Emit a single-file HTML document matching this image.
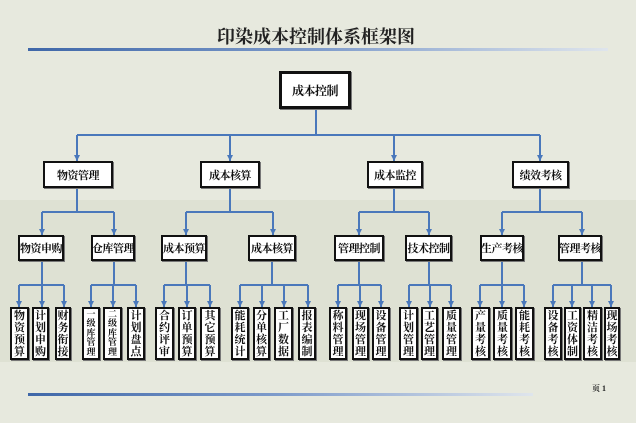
<!DOCTYPE html>
<html><head><meta charset="utf-8"><style>
body{margin:0}
#p{position:relative;width:636px;height:423px;overflow:hidden;background:#e7e9de;font-family:"Liberation Serif","Noto Serif CJK SC",serif;}
.band{position:absolute;left:0;top:200px;width:636px;height:162px;background:#dee1d3}
.b{position:absolute;box-sizing:border-box;border:2px solid #111;background:#fff;display:flex;align-items:center;justify-content:center;font-weight:bold;font-size:11px;color:#111;box-shadow:1px 1px 0 #777;white-space:nowrap;letter-spacing:-0.5px}
.l{white-space:normal;letter-spacing:0;text-align:center;padding:0}
.l span{display:block;width:11px;font-size:11px;line-height:12px;word-break:break-all;}
.s span{font-size:9px;line-height:9.5px;width:9px}
svg{position:absolute;left:0;top:0}
</style></head><body><div id="p">
<div class="band"></div>
<div style="position:absolute;left:0;width:632px;top:23px;text-align:center;font-size:18px;font-weight:bold;color:#222;">印染成本控制体系框架图</div>
<svg width="636" height="423">
<defs>
<linearGradient id="g" x1="0" x2="1"><stop offset="0" stop-color="#3f67a8"/><stop offset="0.5" stop-color="#7f9ccb"/><stop offset="1" stop-color="#dfe5ec"/></linearGradient>
<marker id="a" markerWidth="6" markerHeight="6" refX="3" refY="6" markerUnits="userSpaceOnUse"><path d="M0,0 L6,0 L3,6z" fill="#4a78bb"/></marker>
</defs>
<rect x="28" y="48" width="580" height="3" fill="url(#g)"/>
<rect x="28" y="393" width="505" height="3" fill="url(#g)"/>
<g stroke="#4a78bb" stroke-width="2" fill="none">
<path d="M316 109V135M77 135H540"/>
<path d="M77 188V212M42 212H114M230 188V212M186 212H273M394 188V212M359 212H429M540 188V212M502 212H582"/>
<path d="M42 261V285M19 285H64M114 261V285M91 285H136M186 261V285M164 285H210M272 261V285M240 285H308M359 261V285M338 285H381M429 261V285M409 285H451M502 261V285M480 285H524M582 261V285M553 285H611"/>
</g>
<g stroke="#4a78bb" stroke-width="2" marker-end="url(#a)">
<line x1="77" y1="135" x2="77" y2="161"/><line x1="230" y1="135" x2="230" y2="161"/><line x1="394" y1="135" x2="394" y2="161"/><line x1="540" y1="135" x2="540" y2="161"/>
<line x1="42" y1="212" x2="42" y2="235"/><line x1="114" y1="212" x2="114" y2="235"/><line x1="186" y1="212" x2="186" y2="235"/><line x1="273" y1="212" x2="273" y2="235"/><line x1="359" y1="212" x2="359" y2="235"/><line x1="429" y1="212" x2="429" y2="235"/><line x1="502" y1="212" x2="502" y2="235"/><line x1="582" y1="212" x2="582" y2="235"/>
<line x1="19" y1="285" x2="19" y2="307"/><line x1="42" y1="285" x2="42" y2="307"/><line x1="64" y1="285" x2="64" y2="307"/>
<line x1="91" y1="285" x2="91" y2="307"/><line x1="113" y1="285" x2="113" y2="307"/><line x1="136" y1="285" x2="136" y2="307"/>
<line x1="164" y1="285" x2="164" y2="307"/><line x1="187" y1="285" x2="187" y2="307"/><line x1="210" y1="285" x2="210" y2="307"/>
<line x1="240" y1="285" x2="240" y2="307"/><line x1="262" y1="285" x2="262" y2="307"/><line x1="284" y1="285" x2="284" y2="307"/><line x1="308" y1="285" x2="308" y2="307"/>
<line x1="338" y1="285" x2="338" y2="307"/><line x1="360" y1="285" x2="360" y2="307"/><line x1="381" y1="285" x2="381" y2="307"/>
<line x1="409" y1="285" x2="409" y2="307"/><line x1="430" y1="285" x2="430" y2="307"/><line x1="451" y1="285" x2="451" y2="307"/>
<line x1="480" y1="285" x2="480" y2="307"/><line x1="502" y1="285" x2="502" y2="307"/><line x1="524" y1="285" x2="524" y2="307"/>
<line x1="553" y1="285" x2="553" y2="307"/><line x1="572" y1="285" x2="572" y2="307"/><line x1="592" y1="285" x2="592" y2="307"/><line x1="611" y1="285" x2="611" y2="307"/>
</g>
</svg>
<div class="b" style="left:279px;top:71px;width:72px;height:38px;border-width:3px;font-size:12px">成本控制</div>
<div class="b" style="left:43px;top:161px;width:70px;height:27px">物资管理</div>
<div class="b" style="left:200px;top:161px;width:60px;height:27px">成本核算</div>
<div class="b" style="left:367px;top:161px;width:56px;height:27px">成本监控</div>
<div class="b" style="left:512px;top:161px;width:57px;height:27px">绩效考核</div>
<div class="b" style="left:18px;top:235px;width:46px;height:26px">物资申购</div>
<div class="b" style="left:91px;top:235px;width:44px;height:26px">仓库管理</div>
<div class="b" style="left:161px;top:235px;width:46px;height:26px">成本预算</div>
<div class="b" style="left:248px;top:235px;width:48px;height:26px">成本核算</div>
<div class="b" style="left:334px;top:235px;width:50px;height:26px">管理控制</div>
<div class="b" style="left:405px;top:235px;width:47px;height:26px">技术控制</div>
<div class="b" style="left:480px;top:235px;width:44px;height:26px">生产考核</div>
<div class="b" style="left:558px;top:235px;width:44px;height:26px">管理考核</div>

<div class="b l" style="left:10px;top:307px;width:19px;height:53px"><span>物资预算</span></div>
<div class="b l" style="left:32px;top:307px;width:17px;height:53px"><span>计划申购</span></div>
<div class="b l" style="left:55px;top:307px;width:16px;height:53px"><span>财务衔接</span></div>
<div class="b l s" style="left:82px;top:307px;width:18px;height:53px"><span>一级库管理</span></div>
<div class="b l s" style="left:103px;top:307px;width:19px;height:53px"><span>二级库管理</span></div>
<div class="b l" style="left:127px;top:307px;width:18px;height:53px"><span>计划盘点</span></div>
<div class="b l" style="left:155px;top:307px;width:19px;height:53px"><span>合约评审</span></div>
<div class="b l" style="left:178px;top:307px;width:18px;height:53px"><span>订单预算</span></div>
<div class="b l" style="left:200px;top:307px;width:20px;height:53px"><span>其它预算</span></div>
<div class="b l" style="left:231px;top:307px;width:18px;height:53px"><span>能耗统计</span></div>
<div class="b l" style="left:253px;top:307px;width:17px;height:53px"><span>分单核算</span></div>
<div class="b l" style="left:274px;top:307px;width:19px;height:53px"><span>工厂数据</span></div>
<div class="b l" style="left:298px;top:307px;width:18px;height:53px"><span>报表编制</span></div>
<div class="b l" style="left:329px;top:307px;width:18px;height:53px"><span>称料管理</span></div>
<div class="b l" style="left:352px;top:307px;width:17px;height:53px"><span>现场管理</span></div>
<div class="b l" style="left:372px;top:307px;width:18px;height:53px"><span>设备管理</span></div>
<div class="b l" style="left:399px;top:307px;width:19px;height:53px"><span>计划管理</span></div>
<div class="b l" style="left:421px;top:307px;width:17px;height:53px"><span>工艺管理</span></div>
<div class="b l" style="left:442px;top:307px;width:19px;height:53px"><span>质量管理</span></div>
<div class="b l" style="left:471px;top:307px;width:19px;height:53px"><span>产量考核</span></div>
<div class="b l" style="left:493px;top:307px;width:19px;height:53px"><span>质量考核</span></div>
<div class="b l" style="left:515px;top:307px;width:19px;height:53px"><span>能耗考核</span></div>
<div class="b l" style="left:544px;top:307px;width:18px;height:53px"><span>设备考核</span></div>
<div class="b l" style="left:564px;top:307px;width:17px;height:53px"><span>工资体制</span></div>
<div class="b l" style="left:583px;top:307px;width:19px;height:53px"><span>精洁考核</span></div>
<div class="b l" style="left:604px;top:307px;width:16px;height:53px"><span>现场考核</span></div>
<div style="position:absolute;left:592px;top:383px;font-size:8px;font-weight:bold;color:#222">页 1</div>
</div></body></html>
